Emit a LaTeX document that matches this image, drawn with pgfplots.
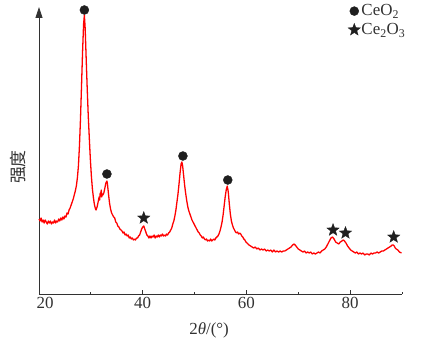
\documentclass[border=0pt]{standalone}
\usepackage{fontspec}
\setmainfont{Liberation Serif}
\newfontfamily\cjk{Noto Sans CJK SC}
\usepackage{pgfplots}
\pgfplotsset{compat=1.18}
\usetikzlibrary{arrows.meta}
\pgfdeclareplotmark{fstar}{%
  \pgfpathmoveto{\pgfpointpolar{90}{\pgfplotmarksize}}%
  \pgfpathlineto{\pgfpointpolar{126}{0.42\pgfplotmarksize}}%
  \pgfpathlineto{\pgfpointpolar{162}{\pgfplotmarksize}}%
  \pgfpathlineto{\pgfpointpolar{198}{0.42\pgfplotmarksize}}%
  \pgfpathlineto{\pgfpointpolar{234}{\pgfplotmarksize}}%
  \pgfpathlineto{\pgfpointpolar{270}{0.42\pgfplotmarksize}}%
  \pgfpathlineto{\pgfpointpolar{306}{\pgfplotmarksize}}%
  \pgfpathlineto{\pgfpointpolar{342}{0.42\pgfplotmarksize}}%
  \pgfpathlineto{\pgfpointpolar{18}{\pgfplotmarksize}}%
  \pgfpathlineto{\pgfpointpolar{54}{0.42\pgfplotmarksize}}%
  \pgfpathclose\pgfusepathqfillstroke}
\definecolor{axgray}{RGB}{50,50,50}
\definecolor{xrdred}{RGB}{255,0,0}
\begin{document}
\begin{tikzpicture}
\begin{axis}[
  scale only axis, width=363bp, height=287bp,
  xmin=20, xmax=90, ymin=0, ymax=287,
  axis x line=bottom, axis y line=left,
  axis line style={line width=0.8pt, axgray},
  x axis line style={-},
  y axis line style={-{Triangle[length=11bp,width=7bp]}},
  xtick={20,40,60,80}, minor xtick={30,50,70,90}, ytick=\empty,
  xticklabels={{\hspace*{12bp}20},40,60,80},
  tick align=inside, major tick length=4bp, minor tick length=2.5bp,
  tick style={axgray, line width=0.8pt},
  xticklabel style={font=\fontsize{17}{18}\selectfont, text=axgray},
  clip=false,
  legend style={draw=none, fill=none, at={(rel axis cs:0.851,1.012)}, anchor=north west,
    inner sep=0pt, font=\fontsize{17}{18}\selectfont, text=axgray,
    row sep=4bp, nodes={inner sep=1bp},
    /tikz/every even column/.append style={column sep=0bp}},
  legend cell align=left,
  legend image code/.code={\draw[#1] plot coordinates {(0bp,0bp)};},
]
\addplot[xrdred, line width=1.3pt, line join=round, forget plot] coordinates {
(20.0,75)(20.2,73)(20.4,76)(20.6,72)(20.8,74)(21.0,71)(21.2,74)(21.4,72)(21.6,70)(21.8,73)
(22.0,71)(22.2,73)(22.4,70)(22.6,72)(22.8,71)(23.0,74)(23.2,71)(23.4,73)(23.6,72)(23.8,75)
(24.0,73)(24.2,76)(24.4,74)(24.6,77)(24.8,75)(25.0,78)(25.2,77)(25.4,81)(25.6,80)(25.8,84)
(26.0,86)(26.2,89)(26.4,92)(26.6,95)(26.8,99)(27.0,103)(27.2,108)(27.4,116)(27.6,128)(27.8,148)
(28.0,175)(28.2,208)(28.4,242)(28.6,270)(28.75,279)(28.9,266)(29.1,235)(29.3,205)(29.5,178)(29.7,156)
(29.9,135)(30.1,118)(30.3,105)(30.5,96)(30.7,89)(30.9,85)(31.0,84)(31.2,87)(31.4,92)(31.6,97)
(31.7,94)(31.8,101)(31.9,98)(32.0,104)(32.1,97)(32.2,100)(32.3,99)(32.5,101)(32.7,106)(32.9,111)
(33.1,113)(33.2,110)(33.4,100)(33.6,91)(33.8,85)(34.0,81)(34.2,79)(34.4,77)(34.6,76)(34.8,72)
(35.0,71)(35.2,68)(35.4,67)(35.6,65)(35.8,64)(36.0,63)(36.2,61)(36.4,62)(36.6,59)(36.8,60)
(37.0,58)(37.2,59)(37.4,56)(37.6,57)(37.8,55)(38.0,56)(38.2,54)(38.4,55)(38.6,54)(38.8,56)
(39.0,56)(39.2,58)(39.4,59)(39.6,62)(39.8,65)(40.0,67)(40.2,68)(40.4,65)(40.6,62)(40.8,59)
(41.0,58)(41.2,56)(41.4,58)(41.6,56)(41.8,58)(42.0,57)(42.2,59)(42.4,56)(42.6,58)(42.8,57)
(43.0,59)(43.2,57)(43.4,59)(43.6,58)(43.8,60)(44.0,58)(44.2,59)(44.4,58)(44.6,60)(44.8,59)
(45.0,61)(45.2,62)(45.4,64)(45.6,66)(45.8,70)(46.0,73)(46.2,78)(46.4,84)(46.6,92)(46.8,100)
(47.0,110)(47.2,121)(47.4,130)(47.55,132)(47.7,128)(47.9,118)(48.1,108)(48.3,100)(48.5,93)(48.7,87)
(48.9,83)(49.1,80)(49.3,77)(49.5,74)(49.7,72)(49.9,70)(50.1,68)(50.3,66)(50.5,64)(50.7,62)
(50.9,61)(51.1,59)(51.3,58)(51.5,56)(51.7,57)(51.9,55)(52.1,54)(52.3,55)(52.5,53)(52.7,54)
(52.9,53)(53.1,55)(53.3,53)(53.5,54)(53.7,55)(53.9,54)(54.1,56)(54.3,57)(54.5,58)(54.7,60)
(54.9,63)(55.1,67)(55.3,72)(55.5,79)(55.7,88)(55.9,97)(56.1,104)(56.3,108)(56.5,102)(56.7,90)
(56.9,80)(57.1,73)(57.3,69)(57.5,66)(57.7,64)(57.9,62)(58.1,61)(58.3,62)(58.5,60)(58.7,61)
(58.9,60)(59.1,58)(59.3,57)(59.5,55)(59.7,54)(59.9,52)(60.1,51)(60.3,50)(60.5,49)(60.8,48)
(61.1,47)(61.4,46)(61.7,47)(62.0,45)(62.3,46)(62.6,44)(62.9,45)(63.2,44)(63.5,45)(63.8,43)
(64.1,44)(64.4,43)(64.7,44)(65.0,42)(65.3,44)(65.6,42)(65.9,43)(66.2,42)(66.5,43)(66.8,42)
(67.1,43)(67.4,43)(67.7,44)(68.0,45)(68.3,46)(68.6,47)(68.9,49)(69.2,50)(69.4,49)(69.7,47)
(70.0,45)(70.3,44)(70.6,43)(70.9,42)(71.2,43)(71.5,41)(71.8,42)(72.1,41)(72.4,42)(72.7,40)
(73.0,41)(73.3,40)(73.6,41)(73.9,42)(74.2,41)(74.5,43)(74.8,44)(75.1,45)(75.4,47)(75.7,50)
(76.0,53)(76.3,56)(76.6,57)(76.9,55)(77.2,52)(77.5,51)(77.8,50)(78.1,52)(78.4,53)(78.7,54)
(78.9,53)(79.2,51)(79.5,48)(79.8,46)(80.1,44)(80.4,43)(80.7,42)(81.0,41)(81.3,42)(81.6,40)
(81.9,41)(82.2,40)(82.5,41)(82.8,39)(83.1,40)(83.4,40)(83.7,39)(84.0,41)(84.3,40)(84.6,41)
(84.9,41)(85.2,42)(85.5,41)(85.8,42)(86.1,43)(86.4,43)(86.7,44)(87.0,45)(87.3,46)(87.6,47)
(87.9,48)(88.1,49)(88.3,49)(88.5,48)(88.7,46)(88.9,45)(89.2,44)(89.5,42)(89.9,41)
};
\addplot[only marks, mark=*, mark size=4.5bp, black!88, mark options={fill=black!88}]
  coordinates {(28.75,284)(33.1,120)(47.75,138)(56.4,114)};
\addlegendentry{CeO\textsubscript{2}}
\addplot[only marks, mark=fstar, mark size=6.5bp, black!88, mark options={fill=black!88, line width=0.3pt}]
  coordinates {(40.2,76)(76.7,64)(79.1,61)(88.4,57)};
\addlegendentry{Ce\textsubscript{2}O\textsubscript{3}}
\node[font=\fontsize{17}{18}\selectfont, text=axgray] at (axis cs:52.8,0) [yshift=-36bp] {2\textit{θ}/(°)};
\node[xshift=-21bp, rotate=90, font=\cjk\fontsize{17}{17}\selectfont, text=axgray] at (axis cs:20,127) {强度};
\coordinate (bl) at (rel axis cs:0,0);
\coordinate (tr) at (rel axis cs:1,1);
\end{axis}
\pgfresetboundingbox
\path[use as bounding box] ([shift={(-39bp,-59bp)}]bl) rectangle ([shift={(40bp,7bp)}]tr);
\end{tikzpicture}
\end{document}
